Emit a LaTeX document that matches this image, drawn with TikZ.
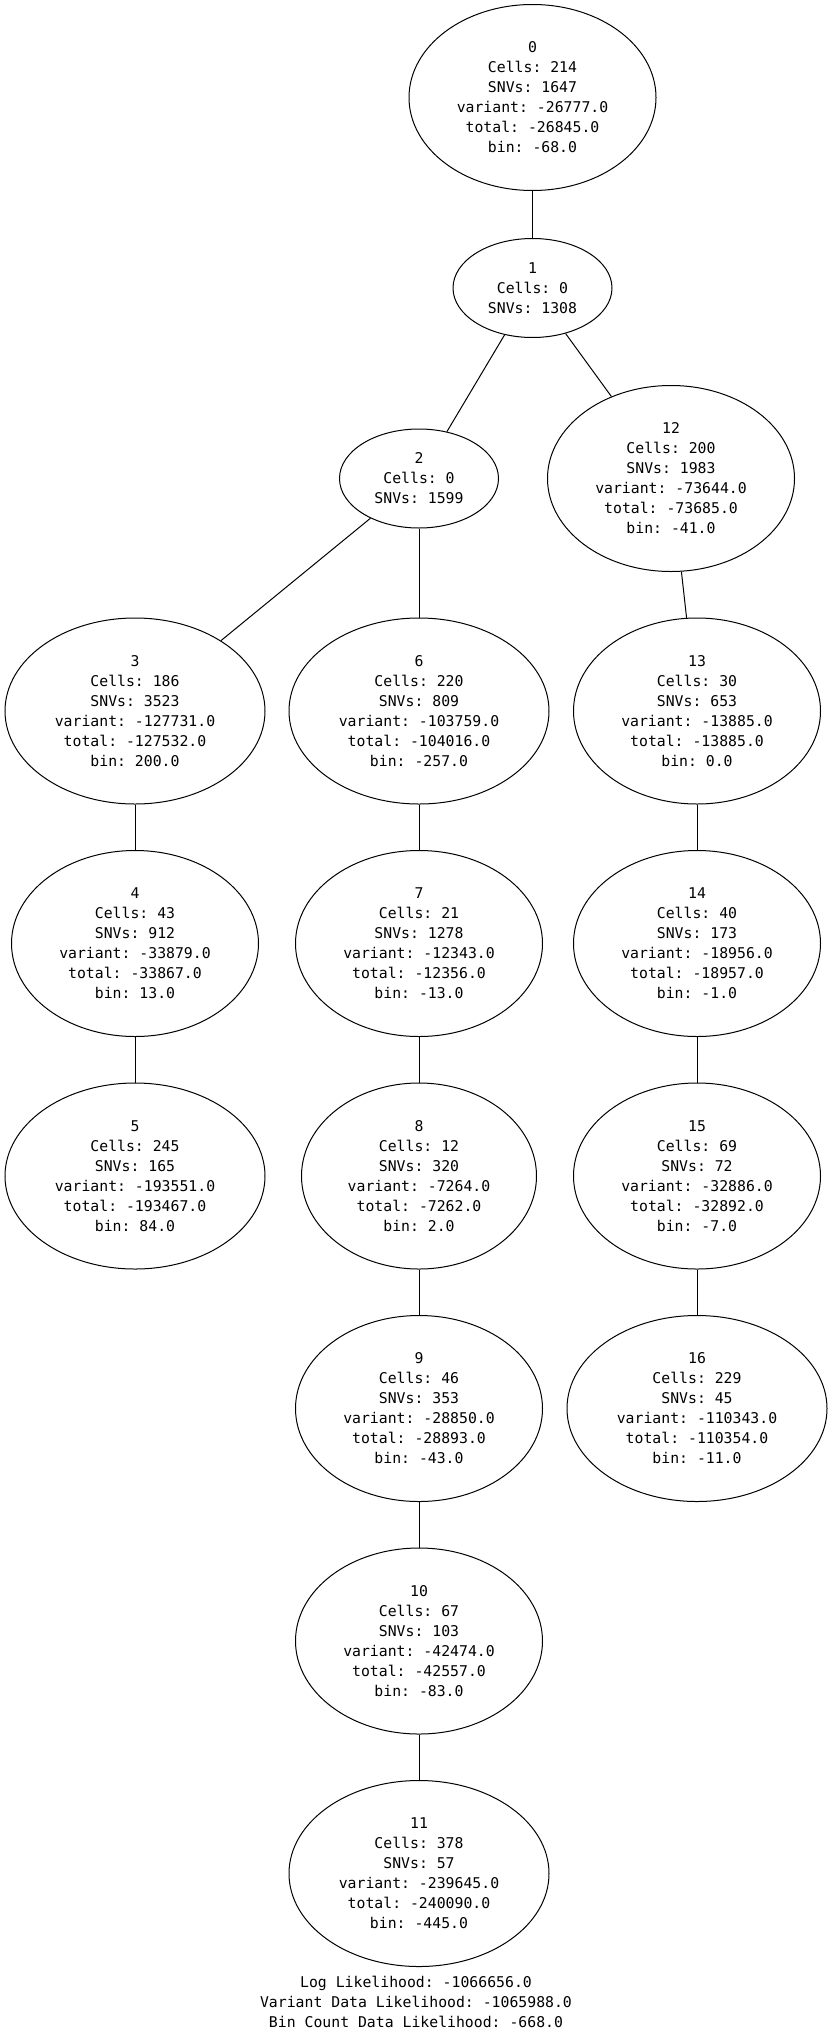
\documentclass[tikz,border=0pt]{standalone}
\usepackage{fontspec}
\newfontfamily\gvmono{DejaVu Sans Mono}
\usetikzlibrary{shapes.geometric}
\tikzset{
  gvnode/.style={draw=black, line width=1pt, ellipse, inner sep=0pt, align=center,
    font=\fontsize{14.8}{20}\selectfont\gvmono\frenchspacing},
  wsmall/.style={gvnode, minimum width=159pt, minimum height=99pt},
  wa/.style={gvnode, minimum width=235pt, minimum height=186pt},
  wb/.style={gvnode, minimum width=247pt, minimum height=186pt},
  wc/.style={gvnode, minimum width=260pt, minimum height=186pt},
  gvedge/.style={draw=black, line width=1pt},
  gvlabel/.style={inner sep=0pt, align=center, font=\fontsize{14.8}{20}\selectfont\gvmono\frenchspacing}
}
\begin{document}
\begin{tikzpicture}[x=1pt,y=-1pt]
\useasboundingbox[fill=white] (0,0) rectangle (832,2039);
\node[wb] (n0) at (532.5,97.5) {0\\Cells: 214\\SNVs: 1647\\variant: -26777.0\\total: -26845.0\\bin: -68.0};
\node[wsmall] (n1) at (532.5,288) {1\\Cells: 0\\SNVs: 1308};
\node[wsmall] (n2) at (419,478.5) {2\\Cells: 0\\SNVs: 1599};
\node[wb] (n12) at (671,478.5) {12\\Cells: 200\\SNVs: 1983\\variant: -73644.0\\total: -73685.0\\bin: -41.0};
\node[wc] (n3) at (135,711) {3\\Cells: 186\\SNVs: 3523\\variant: -127731.0\\total: -127532.0\\bin: 200.0};
\node[wc] (n6) at (419,711) {6\\Cells: 220\\SNVs: 809\\variant: -103759.0\\total: -104016.0\\bin: -257.0};
\node[wb] (n13) at (697,711) {13\\Cells: 30\\SNVs: 653\\variant: -13885.0\\total: -13885.0\\bin: 0.0};
\node[wb] (n4) at (135,943.5) {4\\Cells: 43\\SNVs: 912\\variant: -33879.0\\total: -33867.0\\bin: 13.0};
\node[wb] (n7) at (419,943.5) {7\\Cells: 21\\SNVs: 1278\\variant: -12343.0\\total: -12356.0\\bin: -13.0};
\node[wb] (n14) at (697,943.5) {14\\Cells: 40\\SNVs: 173\\variant: -18956.0\\total: -18957.0\\bin: -1.0};
\node[wc] (n5) at (135,1176) {5\\Cells: 245\\SNVs: 165\\variant: -193551.0\\total: -193467.0\\bin: 84.0};
\node[wa] (n8) at (419,1176) {8\\Cells: 12\\SNVs: 320\\variant: -7264.0\\total: -7262.0\\bin: 2.0};
\node[wb] (n15) at (697,1176) {15\\Cells: 69\\SNVs: 72\\variant: -32886.0\\total: -32892.0\\bin: -7.0};
\node[wb] (n9) at (419,1408.5) {9\\Cells: 46\\SNVs: 353\\variant: -28850.0\\total: -28893.0\\bin: -43.0};
\node[wc] (n16) at (697,1408.5) {16\\Cells: 229\\SNVs: 45\\variant: -110343.0\\total: -110354.0\\bin: -11.0};
\node[wb] (n10) at (419,1641) {10\\Cells: 67\\SNVs: 103\\variant: -42474.0\\total: -42557.0\\bin: -83.0};
\node[wc] (n11) at (419,1873.5) {11\\Cells: 378\\SNVs: 57\\variant: -239645.0\\total: -240090.0\\bin: -445.0};
\node[gvlabel] (foot) at (416,2002) {Log Likelihood: -1066656.0\\Variant Data Likelihood: -1065988.0\\Bin Count Data Likelihood: -668.0};
\draw[gvedge] (n0) -- (n1);
\draw[gvedge] (n1) -- (n2);
\draw[gvedge] (n1) -- (n12);
\draw[gvedge] (n2) -- (n3);
\draw[gvedge] (n2) -- (n6);
\draw[gvedge] (n12) -- (n13);
\draw[gvedge] (n3) -- (n4);
\draw[gvedge] (n4) -- (n5);
\draw[gvedge] (n6) -- (n7);
\draw[gvedge] (n7) -- (n8);
\draw[gvedge] (n8) -- (n9);
\draw[gvedge] (n9) -- (n10);
\draw[gvedge] (n10) -- (n11);
\draw[gvedge] (n13) -- (n14);
\draw[gvedge] (n14) -- (n15);
\draw[gvedge] (n15) -- (n16);
\end{tikzpicture}
\end{document}
